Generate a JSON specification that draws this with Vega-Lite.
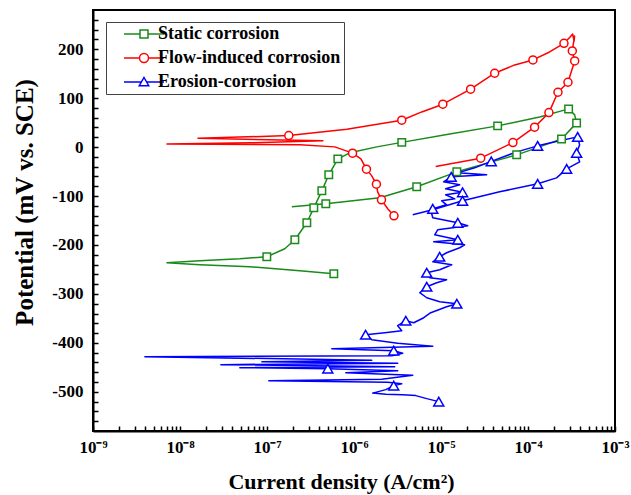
{
  "$schema": "https://vega.github.io/schema/vega-lite/v6.json",
  "width": 522,
  "height": 421,
  "autosize": {"type": "none"},
  "padding": {"left": 93, "top": 10, "right": 16, "bottom": 64},
  "background": "white",
  "config": {
    "view": {"stroke": "black", "strokeWidth": 2},
    "font": "Liberation Serif",
    "axis": {
      "labelOverlap": false, "labelFlush": false, "labelBound": false, "grid": false,
      "tickColor": "black", "tickWidth": 1.5,
      "domainColor": "black", "domainWidth": 2,
      "labelFont": "Liberation Serif", "labelFontWeight": "bold", "labelFontSize": 17, "labelColor": "black",
      "titleFont": "Liberation Serif", "titleFontWeight": "bold", "titleColor": "black"
    },
    "legend": {
      "labelFont": "Liberation Serif", "labelFontSize": 18, "labelFontWeight": "bold", "labelColor": "black", "labelLimit": 400
    }
  },
  "datasets": {
    "curves": [
      {"s":"Static corrosion","i":1,"I":5.86e-7,"E":-258.8},
      {"s":"Static corrosion","i":2,"I":2.38e-7,"E":-252.6},
      {"s":"Static corrosion","i":3,"I":6.35e-8,"E":-244.5},
      {"s":"Static corrosion","i":4,"I":1.69e-8,"E":-240.4},
      {"s":"Static corrosion","i":5,"I":7.08e-9,"E":-236.3},
      {"s":"Static corrosion","i":6,"I":1.69e-8,"E":-232.2},
      {"s":"Static corrosion","i":7,"I":4.87e-8,"E":-228.2},
      {"s":"Static corrosion","i":8,"I":9.95e-8,"E":-224.1},
      {"s":"Static corrosion","i":9,"I":1.60e-7,"E":-207.8},
      {"s":"Static corrosion","i":10,"I":2.09e-7,"E":-189.4},
      {"s":"Static corrosion","i":11,"I":2.87e-7,"E":-154.7},
      {"s":"Static corrosion","i":12,"I":3.45e-7,"E":-124.1},
      {"s":"Static corrosion","i":13,"I":4.27e-7,"E":-89.4},
      {"s":"Static corrosion","i":14,"I":5.13e-7,"E":-56.7},
      {"s":"Static corrosion","i":15,"I":6.52e-7,"E":-24.1},
      {"s":"Static corrosion","i":16,"I":8.95e-7,"E":-11.8},
      {"s":"Static corrosion","i":17,"I":1.83e-6,"E":0.4},
      {"s":"Static corrosion","i":18,"I":3.54e-6,"E":9.6},
      {"s":"Static corrosion","i":19,"I":1.26e-5,"E":26.9},
      {"s":"Static corrosion","i":20,"I":4.48e-5,"E":43.3},
      {"s":"Static corrosion","i":21,"I":1.36e-4,"E":61.6},
      {"s":"Static corrosion","i":22,"I":2.93e-4,"E":78},
      {"s":"Static corrosion","i":23,"I":3.44e-4,"E":65.7},
      {"s":"Static corrosion","i":24,"I":3.62e-4,"E":49.4},
      {"s":"Static corrosion","i":25,"I":2.43e-4,"E":16.7},
      {"s":"Static corrosion","i":26,"I":1.36e-4,"E":0.4},
      {"s":"Static corrosion","i":27,"I":7.41e-5,"E":-15.9},
      {"s":"Static corrosion","i":28,"I":3.82e-5,"E":-30.2},
      {"s":"Static corrosion","i":29,"I":1.52e-5,"E":-50.6},
      {"s":"Static corrosion","i":30,"I":5.26e-6,"E":-81.2},
      {"s":"Static corrosion","i":31,"I":1.98e-6,"E":-103.7},
      {"s":"Static corrosion","i":32,"I":4.74e-7,"E":-115.9},
      {"s":"Static corrosion","i":33,"I":1.93e-7,"E":-122},
      {"s":"Flow-induced corrosion","i":1,"I":2.88e-6,"E":-140.4},
      {"s":"Flow-induced corrosion","i":2,"I":2.44e-6,"E":-126.1},
      {"s":"Flow-induced corrosion","i":3,"I":2.07e-6,"E":-107.8},
      {"s":"Flow-induced corrosion","i":4,"I":1.87e-6,"E":-91.4},
      {"s":"Flow-induced corrosion","i":5,"I":1.81e-6,"E":-75.7},
      {"s":"Flow-induced corrosion","i":6,"I":1.60e-6,"E":-58.8},
      {"s":"Flow-induced corrosion","i":7,"I":1.39e-6,"E":-45.1},
      {"s":"Flow-induced corrosion","i":8,"I":1.20e-6,"E":-24.1},
      {"s":"Flow-induced corrosion","i":9,"I":9.62e-7,"E":-12.4},
      {"s":"Flow-induced corrosion","i":10,"I":6.01e-7,"E":0.4},
      {"s":"Flow-induced corrosion","i":11,"I":2.38e-7,"E":4.5},
      {"s":"Flow-induced corrosion","i":12,"I":7.08e-9,"E":6.5},
      {"s":"Flow-induced corrosion","i":13,"I":6.35e-8,"E":8.6},
      {"s":"Flow-induced corrosion","i":14,"I":4.39e-7,"E":12.7},
      {"s":"Flow-induced corrosion","i":15,"I":1.61e-8,"E":17.8},
      {"s":"Flow-induced corrosion","i":16,"I":1.78e-7,"E":23.5},
      {"s":"Flow-induced corrosion","i":17,"I":8.26e-7,"E":36.5},
      {"s":"Flow-induced corrosion","i":18,"I":3.54e-6,"E":54.9},
      {"s":"Flow-induced corrosion","i":19,"I":6.01e-6,"E":71.8},
      {"s":"Flow-induced corrosion","i":20,"I":1.05e-5,"E":87.6},
      {"s":"Flow-induced corrosion","i":21,"I":2.19e-5,"E":118.2},
      {"s":"Flow-induced corrosion","i":22,"I":4.14e-5,"E":150.8},
      {"s":"Flow-induced corrosion","i":23,"I":7.03e-5,"E":167.8},
      {"s":"Flow-induced corrosion","i":24,"I":1.14e-4,"E":178},
      {"s":"Flow-induced corrosion","i":25,"I":1.77e-4,"E":194.3},
      {"s":"Flow-induced corrosion","i":26,"I":2.59e-4,"E":212},
      {"s":"Flow-induced corrosion","i":27,"I":3.05e-4,"E":224.9},
      {"s":"Flow-induced corrosion","i":28,"I":3.26e-4,"E":231},
      {"s":"Flow-induced corrosion","i":29,"I":3.39e-4,"E":216.7},
      {"s":"Flow-induced corrosion","i":30,"I":3.43e-4,"E":227},
      {"s":"Flow-induced corrosion","i":31,"I":3.23e-4,"E":196.3},
      {"s":"Flow-induced corrosion","i":32,"I":3.44e-4,"E":175.9},
      {"s":"Flow-induced corrosion","i":33,"I":2.88e-4,"E":132.4},
      {"s":"Flow-induced corrosion","i":34,"I":2.21e-4,"E":112},
      {"s":"Flow-induced corrosion","i":35,"I":1.74e-4,"E":70.4},
      {"s":"Flow-induced corrosion","i":36,"I":1.19e-4,"E":40.6},
      {"s":"Flow-induced corrosion","i":37,"I":6.71e-5,"E":9.2},
      {"s":"Flow-induced corrosion","i":38,"I":2.86e-5,"E":-22.7},
      {"s":"Flow-induced corrosion","i":39,"I":8.69e-6,"E":-39.8},
      {"s":"Erosion-corrosion","i":1,"I":9.42e-6,"E":-520},
      {"s":"Erosion-corrosion","i":2,"I":6.86e-6,"E":-513.9},
      {"s":"Erosion-corrosion","i":3,"I":5.13e-6,"E":-507.7},
      {"s":"Erosion-corrosion","i":4,"I":3.63e-6,"E":-505.7},
      {"s":"Erosion-corrosion","i":5,"I":2.32e-6,"E":-504.7},
      {"s":"Erosion-corrosion","i":6,"I":1.64e-6,"E":-502.6},
      {"s":"Erosion-corrosion","i":7,"I":2.32e-6,"E":-495.5},
      {"s":"Erosion-corrosion","i":8,"I":2.86e-6,"E":-487.3},
      {"s":"Erosion-corrosion","i":9,"I":3.54e-6,"E":-483.3},
      {"s":"Erosion-corrosion","i":10,"I":2.44e-6,"E":-480.2},
      {"s":"Erosion-corrosion","i":11,"I":1.05e-7,"E":-477.1},
      {"s":"Erosion-corrosion","i":12,"I":2.08e-6,"E":-474.1},
      {"s":"Erosion-corrosion","i":13,"I":4.73e-6,"E":-465.9},
      {"s":"Erosion-corrosion","i":14,"I":8.05e-7,"E":-460.8},
      {"s":"Erosion-corrosion","i":15,"I":3.18e-6,"E":-456.7},
      {"s":"Erosion-corrosion","i":16,"I":5.00e-7,"E":-452.6},
      {"s":"Erosion-corrosion","i":17,"I":4.87e-8,"E":-450.6},
      {"s":"Erosion-corrosion","i":18,"I":2.94e-6,"E":-448.6},
      {"s":"Erosion-corrosion","i":19,"I":2.95e-8,"E":-444.5},
      {"s":"Erosion-corrosion","i":20,"I":3.18e-6,"E":-441.4},
      {"s":"Erosion-corrosion","i":21,"I":8.73e-8,"E":-438.4},
      {"s":"Erosion-corrosion","i":22,"I":1.60e-6,"E":-435.3},
      {"s":"Erosion-corrosion","i":23,"I":3.95e-9,"E":-428.2},
      {"s":"Erosion-corrosion","i":24,"I":2.72e-6,"E":-426.1},
      {"s":"Erosion-corrosion","i":25,"I":3.63e-6,"E":-421},
      {"s":"Erosion-corrosion","i":26,"I":2.86e-6,"E":-415.9},
      {"s":"Erosion-corrosion","i":27,"I":5.56e-7,"E":-411.8},
      {"s":"Erosion-corrosion","i":28,"I":8.04e-6,"E":-406.7},
      {"s":"Erosion-corrosion","i":29,"I":3.18e-6,"E":-400.6},
      {"s":"Erosion-corrosion","i":30,"I":1.60e-6,"E":-393.5},
      {"s":"Erosion-corrosion","i":31,"I":1.36e-6,"E":-383.3},
      {"s":"Erosion-corrosion","i":32,"I":2.26e-6,"E":-379.2},
      {"s":"Erosion-corrosion","i":33,"I":3.54e-6,"E":-375.1},
      {"s":"Erosion-corrosion","i":34,"I":3.18e-6,"E":-364.9},
      {"s":"Erosion-corrosion","i":35,"I":3.94e-6,"E":-354.7},
      {"s":"Erosion-corrosion","i":36,"I":4.86e-6,"E":-358.8},
      {"s":"Erosion-corrosion","i":37,"I":6.34e-6,"E":-348.6},
      {"s":"Erosion-corrosion","i":38,"I":7.62e-6,"E":-338.4},
      {"s":"Erosion-corrosion","i":39,"I":9.42e-6,"E":-332.2},
      {"s":"Erosion-corrosion","i":40,"I":1.16e-5,"E":-326.1},
      {"s":"Erosion-corrosion","i":41,"I":1.52e-5,"E":-320},
      {"s":"Erosion-corrosion","i":42,"I":9.66e-6,"E":-315.9},
      {"s":"Erosion-corrosion","i":43,"I":6.86e-6,"E":-307.8},
      {"s":"Erosion-corrosion","i":44,"I":5.70e-6,"E":-297.5},
      {"s":"Erosion-corrosion","i":45,"I":6.86e-6,"E":-285.3},
      {"s":"Erosion-corrosion","i":46,"I":8.93e-6,"E":-277.1},
      {"s":"Erosion-corrosion","i":47,"I":1.16e-5,"E":-271},
      {"s":"Erosion-corrosion","i":48,"I":7.41e-6,"E":-266.9},
      {"s":"Erosion-corrosion","i":49,"I":6.86e-6,"E":-256.7},
      {"s":"Erosion-corrosion","i":50,"I":9.66e-6,"E":-250.6},
      {"s":"Erosion-corrosion","i":51,"I":1.33e-5,"E":-240.4},
      {"s":"Erosion-corrosion","i":52,"I":8.04e-6,"E":-234.3},
      {"s":"Erosion-corrosion","i":53,"I":9.66e-6,"E":-224.1},
      {"s":"Erosion-corrosion","i":54,"I":1.16e-5,"E":-215.9},
      {"s":"Erosion-corrosion","i":55,"I":1.64e-5,"E":-205.7},
      {"s":"Erosion-corrosion","i":56,"I":1.87e-5,"E":-199.6},
      {"s":"Erosion-corrosion","i":57,"I":8.24e-6,"E":-193.5},
      {"s":"Erosion-corrosion","i":58,"I":1.56e-5,"E":-189.4},
      {"s":"Erosion-corrosion","i":59,"I":8.47e-6,"E":-179.2},
      {"s":"Erosion-corrosion","i":60,"I":9.16e-6,"E":-169},
      {"s":"Erosion-corrosion","i":61,"I":2.03e-5,"E":-160.8},
      {"s":"Erosion-corrosion","i":62,"I":1.56e-5,"E":-154.7},
      {"s":"Erosion-corrosion","i":63,"I":8.04e-6,"E":-144.5},
      {"s":"Erosion-corrosion","i":64,"I":7.82e-6,"E":-136.3},
      {"s":"Erosion-corrosion","i":65,"I":8.04e-6,"E":-126.1},
      {"s":"Erosion-corrosion","i":66,"I":1.16e-5,"E":-118},
      {"s":"Erosion-corrosion","i":67,"I":1.02e-5,"E":-109.8},
      {"s":"Erosion-corrosion","i":68,"I":1.44e-5,"E":-105.7},
      {"s":"Erosion-corrosion","i":69,"I":1.13e-5,"E":-97.5},
      {"s":"Erosion-corrosion","i":70,"I":1.77e-5,"E":-92.4},
      {"s":"Erosion-corrosion","i":71,"I":1.13e-5,"E":-85.3},
      {"s":"Erosion-corrosion","i":72,"I":1.64e-5,"E":-77.1},
      {"s":"Erosion-corrosion","i":73,"I":1.07e-5,"E":-71},
      {"s":"Erosion-corrosion","i":74,"I":1.31e-5,"E":-60.8},
      {"s":"Erosion-corrosion","i":75,"I":3.35e-5,"E":-56.7},
      {"s":"Erosion-corrosion","i":76,"I":1.56e-5,"E":-52.7},
      {"s":"Erosion-corrosion","i":77,"I":2.44e-5,"E":-42.4},
      {"s":"Erosion-corrosion","i":78,"I":3.78e-5,"E":-29.2},
      {"s":"Erosion-corrosion","i":79,"I":7.41e-5,"E":-9.8},
      {"s":"Erosion-corrosion","i":80,"I":1.29e-4,"E":2.5},
      {"s":"Erosion-corrosion","i":81,"I":2.31e-4,"E":12.7},
      {"s":"Erosion-corrosion","i":82,"I":3.72e-4,"E":20.8},
      {"s":"Erosion-corrosion","i":83,"I":3.92e-4,"E":4.5},
      {"s":"Erosion-corrosion","i":84,"I":3.62e-4,"E":-11.8},
      {"s":"Erosion-corrosion","i":85,"I":3.92e-4,"E":-30.2},
      {"s":"Erosion-corrosion","i":86,"I":2.78e-4,"E":-44.5},
      {"s":"Erosion-corrosion","i":87,"I":2.13e-4,"E":-62.9},
      {"s":"Erosion-corrosion","i":88,"I":1.29e-4,"E":-75.1},
      {"s":"Erosion-corrosion","i":89,"I":4.72e-5,"E":-91.4},
      {"s":"Erosion-corrosion","i":90,"I":1.77e-5,"E":-109.8},
      {"s":"Erosion-corrosion","i":91,"I":8.04e-6,"E":-128.2},
      {"s":"Erosion-corrosion","i":92,"I":4.73e-6,"E":-138.4}
    ],
    "markers": [
      {"s":"Static corrosion","I":5.86e-7,"E":-258.8},
      {"s":"Static corrosion","I":9.95e-8,"E":-224.1},
      {"s":"Static corrosion","I":2.09e-7,"E":-189.4},
      {"s":"Static corrosion","I":2.87e-7,"E":-154.7},
      {"s":"Static corrosion","I":3.45e-7,"E":-124.1},
      {"s":"Static corrosion","I":4.27e-7,"E":-89.4},
      {"s":"Static corrosion","I":5.13e-7,"E":-56.7},
      {"s":"Static corrosion","I":6.52e-7,"E":-24.1},
      {"s":"Static corrosion","I":3.54e-6,"E":9.6},
      {"s":"Static corrosion","I":4.48e-5,"E":43.3},
      {"s":"Static corrosion","I":2.93e-4,"E":78},
      {"s":"Static corrosion","I":3.62e-4,"E":49.4},
      {"s":"Static corrosion","I":2.43e-4,"E":16.7},
      {"s":"Static corrosion","I":7.41e-5,"E":-15.9},
      {"s":"Static corrosion","I":1.52e-5,"E":-50.6},
      {"s":"Static corrosion","I":5.26e-6,"E":-81.2},
      {"s":"Static corrosion","I":4.74e-7,"E":-115.9},
      {"s":"Flow-induced corrosion","I":2.88e-6,"E":-140.4},
      {"s":"Flow-induced corrosion","I":2.07e-6,"E":-107.8},
      {"s":"Flow-induced corrosion","I":1.81e-6,"E":-75.7},
      {"s":"Flow-induced corrosion","I":1.39e-6,"E":-45.1},
      {"s":"Flow-induced corrosion","I":9.62e-7,"E":-12.4},
      {"s":"Flow-induced corrosion","I":1.78e-7,"E":23.5},
      {"s":"Flow-induced corrosion","I":3.54e-6,"E":54.9},
      {"s":"Flow-induced corrosion","I":1.05e-5,"E":87.6},
      {"s":"Flow-induced corrosion","I":2.19e-5,"E":118.2},
      {"s":"Flow-induced corrosion","I":4.14e-5,"E":150.8},
      {"s":"Flow-induced corrosion","I":1.14e-4,"E":178},
      {"s":"Flow-induced corrosion","I":2.59e-4,"E":212},
      {"s":"Flow-induced corrosion","I":3.23e-4,"E":196.3},
      {"s":"Flow-induced corrosion","I":3.44e-4,"E":175.9},
      {"s":"Flow-induced corrosion","I":2.88e-4,"E":132.4},
      {"s":"Flow-induced corrosion","I":2.21e-4,"E":112},
      {"s":"Flow-induced corrosion","I":1.74e-4,"E":70.4},
      {"s":"Flow-induced corrosion","I":1.19e-4,"E":40.6},
      {"s":"Flow-induced corrosion","I":6.71e-5,"E":9.2},
      {"s":"Flow-induced corrosion","I":2.86e-5,"E":-22.7},
      {"s":"Erosion-corrosion","I":9.42e-6,"E":-520},
      {"s":"Erosion-corrosion","I":2.86e-6,"E":-487.3},
      {"s":"Erosion-corrosion","I":5.00e-7,"E":-452.6},
      {"s":"Erosion-corrosion","I":2.86e-6,"E":-415.9},
      {"s":"Erosion-corrosion","I":1.36e-6,"E":-383.3},
      {"s":"Erosion-corrosion","I":3.94e-6,"E":-354.7},
      {"s":"Erosion-corrosion","I":1.52e-5,"E":-320},
      {"s":"Erosion-corrosion","I":6.86e-6,"E":-285.3},
      {"s":"Erosion-corrosion","I":6.86e-6,"E":-256.7},
      {"s":"Erosion-corrosion","I":9.66e-6,"E":-224.1},
      {"s":"Erosion-corrosion","I":1.56e-5,"E":-189.4},
      {"s":"Erosion-corrosion","I":1.56e-5,"E":-154.7},
      {"s":"Erosion-corrosion","I":8.04e-6,"E":-126.1},
      {"s":"Erosion-corrosion","I":1.77e-5,"E":-92.4},
      {"s":"Erosion-corrosion","I":1.31e-5,"E":-60.8},
      {"s":"Erosion-corrosion","I":3.78e-5,"E":-29.2},
      {"s":"Erosion-corrosion","I":1.29e-4,"E":2.5},
      {"s":"Erosion-corrosion","I":3.72e-4,"E":20.8},
      {"s":"Erosion-corrosion","I":3.62e-4,"E":-11.8},
      {"s":"Erosion-corrosion","I":2.78e-4,"E":-44.5},
      {"s":"Erosion-corrosion","I":1.29e-4,"E":-75.1},
      {"s":"Erosion-corrosion","I":1.77e-5,"E":-109.8}
    ]
  },
  "encoding": {
    "x": {
      "field": "I", "type": "quantitative",
      "scale": {"type": "log", "domain": [1e-9, 1e-3], "nice": false},
      "axis": {
        "title": "Current density (A/cm²)", "titleFontSize": 22,
        "titleX": 248, "titleY": 50, "titleBaseline": "middle", "titleAlign": "center",
        "values": [1e-9,2e-9,3e-9,4e-9,5e-9,6e-9,7e-9,8e-9,9e-9,1e-8,2e-8,3e-8,4e-8,5e-8,6e-8,7e-8,8e-8,9e-8,1e-7,2e-7,3e-7,4e-7,5e-7,6e-7,7e-7,8e-7,9e-7,1e-6,2e-6,3e-6,4e-6,5e-6,6e-6,7e-6,8e-6,9e-6,1e-5,2e-5,3e-5,4e-5,5e-5,6e-5,7e-5,8e-5,9e-5,1e-4,2e-4,3e-4,4e-4,5e-4,6e-4,7e-4,8e-4,9e-4,1e-3],
        "labelExpr": "abs(log(datum.value)/LN10 - round(log(datum.value)/LN10)) < 0.01 ? '10⁻' + ['⁰','¹','²','³','⁴','⁵','⁶','⁷','⁸','⁹'][-round(log(datum.value)/LN10)] : ''",
        "labelOverlap": false, "tickSize": -5, "labelPadding": 13
      }
    },
    "y": {
      "field": "E", "type": "quantitative",
      "scale": {"domain": [-580, 280], "nice": false, "zero": false},
      "axis": {
        "title": "Potential (mV vs. SCE)", "titleFontSize": 25,
        "titleX": -69, "titleY": 192, "titleAngle": -90, "titleBaseline": "middle", "titleAlign": "center",
        "values": [-560,-540,-520,-500,-480,-460,-440,-420,-400,-380,-360,-340,-320,-300,-280,-260,-240,-220,-200,-180,-160,-140,-120,-100,-80,-60,-40,-20,0,20,40,60,80,100,120,140,160,180,200,220,240,260],
        "labelExpr": "datum.value % 100 === 0 ? '' + datum.value : ''",
        "labelOverlap": false, "tickSize": -5, "labelPadding": 15
      }
    }
  },
  "layer": [
    {
      "data": {"name": "curves"},
      "mark": {"type": "line", "strokeWidth": 1.5, "strokeJoin": "round"},
      "encoding": {
        "stroke": {
          "field": "s", "type": "nominal",
          "scale": {"domain": ["Erosion-corrosion", "Flow-induced corrosion", "Static corrosion"], "range": ["#0000ff", "#ff0000", "#1a8a1a"]},
          "legend": null
        },
        "order": {"field": "i", "type": "quantitative"}
      }
    },
    {
      "data": {"name": "markers"},
      "mark": {"type": "point", "filled": false, "opacity": 0, "size": 100, "strokeWidth": 1.5},
      "encoding": {
        "color": {
          "field": "s", "type": "nominal",
          "scale": {"domain": ["Static corrosion", "Flow-induced corrosion", "Erosion-corrosion"], "range": ["#1a8a1a", "#ff0000", "#0000ff"]},
          "legend": {
            "title": null, "orient": "none", "legendX": 13, "legendY": 12,
            "strokeColor": "#444", "padding": 3, "fillColor": "white",
            "symbolSize": 100, "symbolStrokeWidth": 1.5, "symbolOpacity": 1, "symbolOffset": 26, "labelOffset": 5, "rowPadding": 6
          }
        },
        "shape": {
          "field": "s", "type": "nominal",
          "scale": {
            "domain": ["Static corrosion", "Flow-induced corrosion", "Erosion-corrosion"],
            "range": [
              "M-4,0L-0.8,0M0.8,0L4,0M-0.8,-0.8L0.8,-0.8L0.8,0.8L-0.8,0.8Z",
              "M-4,0L-0.9,0M0.9,0L4,0M0.9,0A0.9,0.9,0,1,1,-0.9,0A0.9,0.9,0,1,1,0.9,0Z",
              "M-4,0L-0.5,0M0.5,0L4,0M0,-0.9L0.95,0.75L-0.95,0.75Z"
            ]
          },
          "legend": {
            "title": null, "orient": "none", "legendX": 13, "legendY": 12,
            "strokeColor": "#444", "padding": 3, "fillColor": "white",
            "symbolSize": 100, "symbolStrokeWidth": 1.5, "symbolOpacity": 1, "symbolOffset": 26, "labelOffset": 5, "rowPadding": 6
          }
        }
      }
    },
    {
      "data": {"name": "markers"},
      "transform": [{"filter": "datum.s === 'Static corrosion'"}],
      "mark": {"type": "point", "shape": "square", "size": 56, "filled": false, "fill": "white", "strokeWidth": 1.5, "opacity": 1},
      "encoding": {
        "color": {"field": "s", "type": "nominal", "scale": {"domain": ["Static corrosion", "Flow-induced corrosion", "Erosion-corrosion"], "range": ["#1a8a1a", "#ff0000", "#0000ff"]}}
      }
    },
    {
      "data": {"name": "markers"},
      "transform": [{"filter": "datum.s === 'Flow-induced corrosion'"}],
      "mark": {"type": "point", "shape": "circle", "size": 64, "filled": false, "fill": "white", "strokeWidth": 1.5, "opacity": 1},
      "encoding": {
        "color": {"field": "s", "type": "nominal", "scale": {"domain": ["Static corrosion", "Flow-induced corrosion", "Erosion-corrosion"], "range": ["#1a8a1a", "#ff0000", "#0000ff"]}}
      }
    },
    {
      "data": {"name": "markers"},
      "transform": [{"filter": "datum.s === 'Erosion-corrosion'"}],
      "mark": {"type": "point", "shape": "triangle-up", "size": 100, "filled": false, "fill": "white", "strokeWidth": 1.5, "opacity": 1},
      "encoding": {
        "color": {"field": "s", "type": "nominal", "scale": {"domain": ["Static corrosion", "Flow-induced corrosion", "Erosion-corrosion"], "range": ["#1a8a1a", "#ff0000", "#0000ff"]}}
      }
    }
  ]
}
